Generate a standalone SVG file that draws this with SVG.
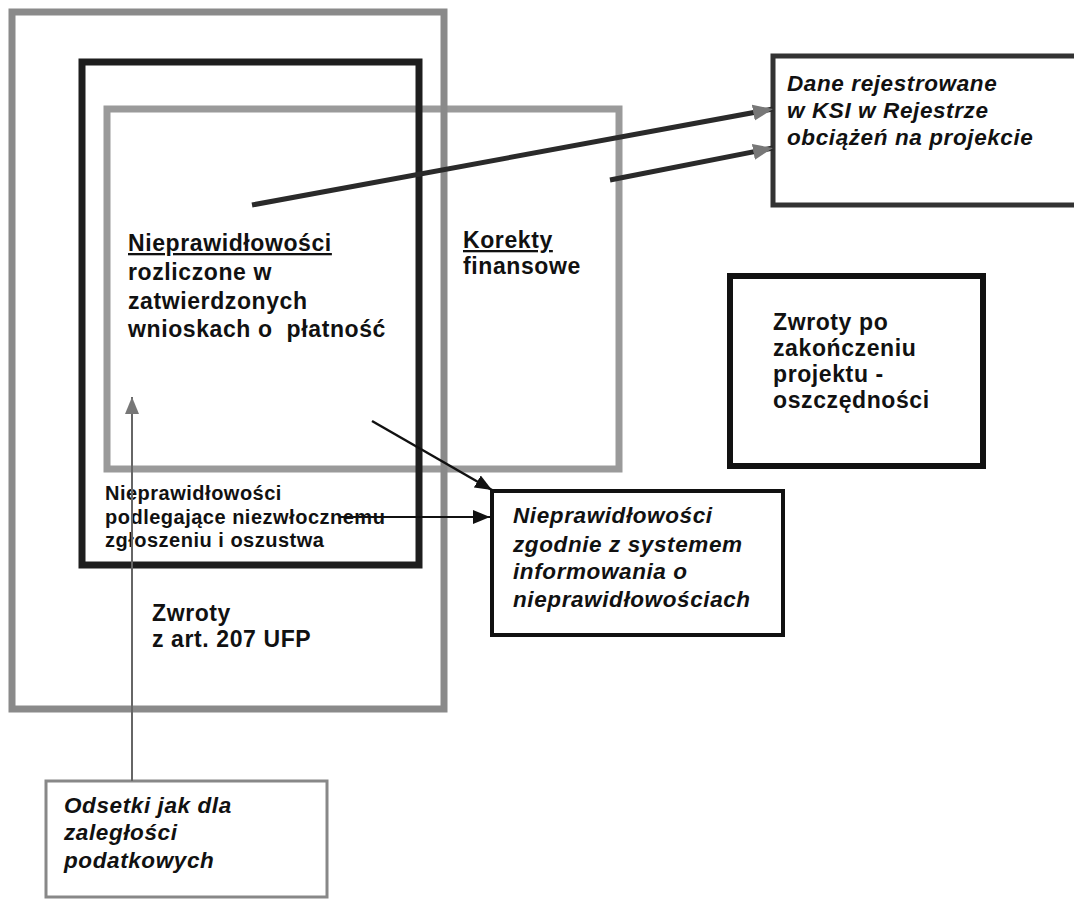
<svg xmlns="http://www.w3.org/2000/svg" width="1074" height="900" viewBox="0 0 1074 900">
<style>
.t{font-family:"Liberation Sans",Arial,sans-serif;font-weight:bold;fill:#111;}
.big{font-size:23px;letter-spacing:0.6px}
.it{font-size:22.5px;letter-spacing:0.6px;font-style:italic}
.sm{font-size:20px;letter-spacing:0.5px}
.u{text-decoration:underline}
.box{fill:none}
</style>
<defs>
<marker id="ahThick" markerUnits="userSpaceOnUse" markerWidth="22" markerHeight="18" refX="20" refY="9" orient="auto"><path d="M0,1 L20,9 L0,17 z" fill="#777"/></marker>
<marker id="ahBlack" markerUnits="userSpaceOnUse" markerWidth="18" markerHeight="14" refX="17" refY="7" orient="auto"><path d="M0,0 L17,7 L0,14 z" fill="#111"/></marker>
<marker id="ahGrey" markerUnits="userSpaceOnUse" markerWidth="18" markerHeight="14" refX="17" refY="7" orient="auto"><path d="M0,0 L17,7 L0,14 z" fill="#777"/></marker>
</defs>
<rect width="1074" height="900" fill="#fff"/>

<g id="node-korekty">
<rect class="box" x="107" y="109" width="512" height="360" stroke="#9a9a9a" stroke-width="7"/>
<text class="t big u" x="463" y="248">Korekty</text>
<text class="t big" x="463" y="274">finansowe</text>
</g>

<g id="node-zwroty-207">
<rect class="box" x="12" y="12" width="432" height="697" stroke="#8a8a8a" stroke-width="7"/>
<text class="t big" x="152" y="621">Zwroty</text>
<text class="t big" x="152" y="647">z art. 207 UFP</text>
</g>

<g id="node-niezwloczne">
<rect class="box" x="82" y="62" width="337" height="503" stroke="#1e1e1e" stroke-width="7"/>
<text class="t sm" x="105" y="500">Nieprawidłowości</text>
<text class="t sm" x="105" y="524">podlegające niezwłocznemu</text>
<text class="t sm" x="105" y="547">zgłoszeniu i oszustwa</text>
</g>

<g id="node-rozliczone">
<text class="t big u" x="128" y="251">Nieprawidłowości</text>
<text class="t big" x="128" y="280">rozliczone w</text>
<text class="t big" x="128" y="309">zatwierdzonych</text>
<text class="t big" x="128" y="337" xml:space="preserve">wnioskach o  płatność</text>
</g>

<g id="node-ksi">
<rect x="773" y="56" width="310" height="149" fill="#fff" stroke="#333" stroke-width="5"/>
<text class="t it" x="787" y="91">Dane rejestrowane</text>
<text class="t it" x="787" y="118">w KSI w Rejestrze</text>
<text class="t it" x="787" y="145">obciążeń na projekcie</text>
</g>

<g id="node-oszczednosci">
<rect x="730" y="276" width="253" height="190" fill="#fff" stroke="#111" stroke-width="6"/>
<text class="t big" x="773" y="330">Zwroty po</text>
<text class="t big" x="773" y="356">zakończeniu</text>
<text class="t big" x="773" y="382">projektu -</text>
<text class="t big" x="773" y="408">oszczędności</text>
</g>

<g id="node-system">
<rect x="492" y="491" width="291" height="144" fill="#fff" stroke="#111" stroke-width="4"/>
<text class="t it" x="513" y="523">Nieprawidłowości</text>
<text class="t it" x="513" y="552">zgodnie z systemem</text>
<text class="t it" x="513" y="579">informowania o</text>
<text class="t it" x="513" y="607">nieprawidłowościach</text>
</g>

<g id="node-odsetki">
<rect x="46" y="781" width="281" height="116" fill="#fff" stroke="#888" stroke-width="3"/>
<text class="t it" x="64" y="813">Odsetki jak dla</text>
<text class="t it" x="64" y="840">zaległości</text>
<text class="t it" x="64" y="868">podatkowych</text>
</g>

<g id="connectors" fill="none">
<line x1="252" y1="205" x2="773" y2="109" stroke="#2a2a2a" stroke-width="5" marker-end="url(#ahThick)"/>
<line x1="610" y1="180" x2="773" y2="148" stroke="#2a2a2a" stroke-width="5" marker-end="url(#ahThick)"/>
<line x1="372" y1="421" x2="492" y2="490" stroke="#111" stroke-width="2.5" marker-end="url(#ahBlack)"/>
<line x1="340" y1="517" x2="490" y2="517" stroke="#111" stroke-width="2" marker-end="url(#ahBlack)"/>
<line x1="132" y1="781" x2="132" y2="397" stroke="#666" stroke-width="2" marker-end="url(#ahGrey)"/>
</g>
</svg>
